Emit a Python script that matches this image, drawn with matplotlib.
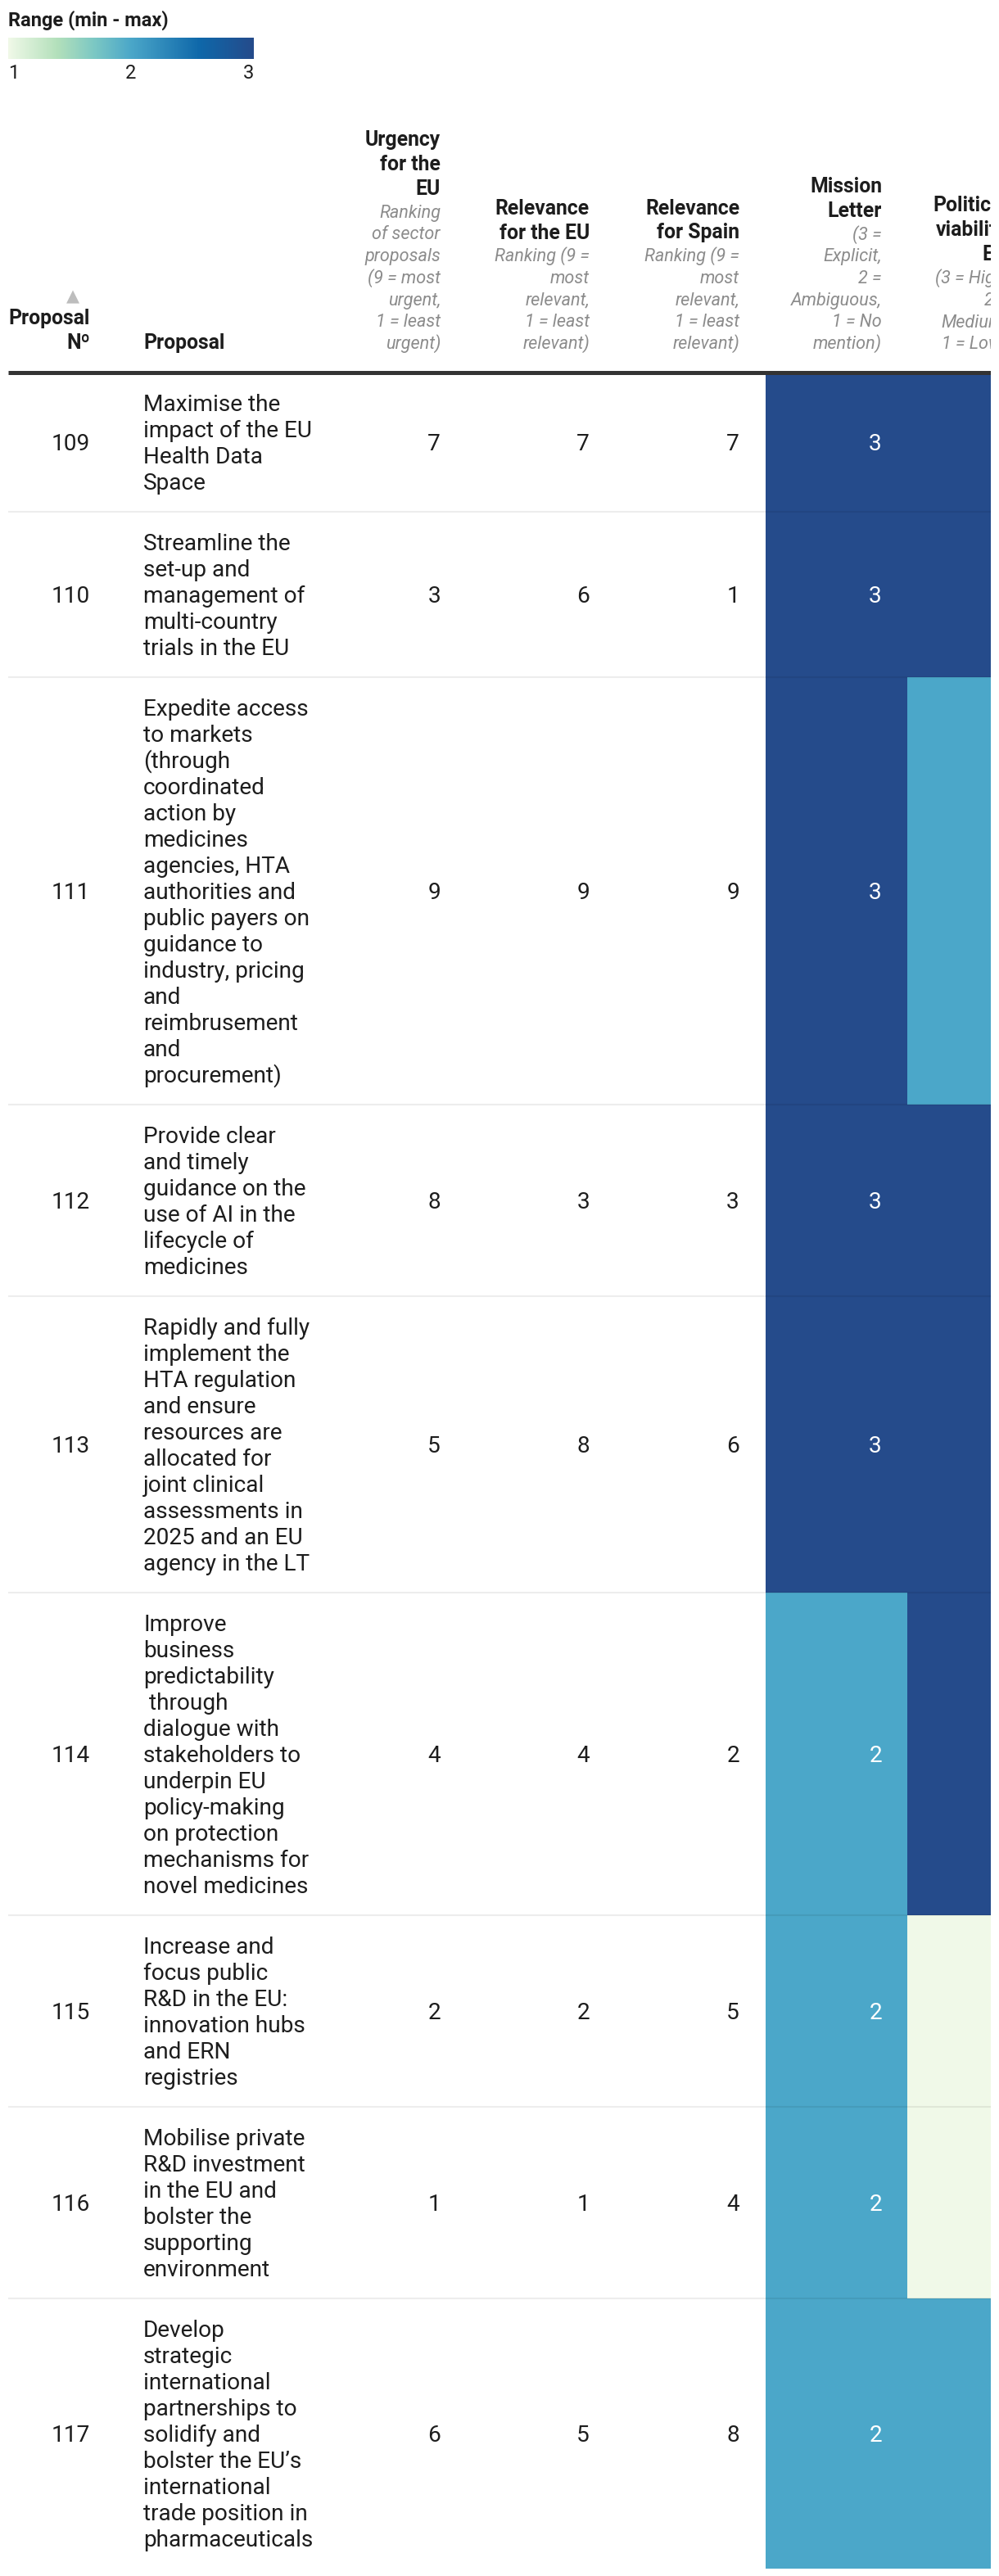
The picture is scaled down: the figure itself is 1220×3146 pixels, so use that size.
import matplotlib

matplotlib.use("Agg")
import matplotlib.pyplot as plt
import numpy as np
from matplotlib.colors import LinearSegmentedColormap, Normalize
from matplotlib.patches import Rectangle

plt.rcParams["font.family"] = ["Roboto", "DejaVu Sans"]

# --- data ---
proposal_ids = [109, 110, 111, 112, 113, 114, 115, 116, 117]
proposal_lines = [
    ["Maximise the", "impact of the EU", "Health Data", "Space"],
    ["Streamline the", "set-up and", "management of", "multi-country", "trials in the EU"],
    ["Expedite access", "to markets", "(through", "coordinated", "action by", "medicines",
     "agencies, HTA", "authorities and", "public payers on", "guidance to",
     "industry, pricing", "and", "reimbrusement", "and", "procurement)"],
    ["Provide clear", "and timely", "guidance on the", "use of AI in the", "lifecycle of",
     "medicines"],
    ["Rapidly and fully", "implement the", "HTA regulation", "and ensure", "resources are",
     "allocated for", "joint clinical", "assessments in", "2025 and an EU", "agency in the LT"],
    ["Improve", "business", "predictability", " through", "dialogue with", "stakeholders to",
     "underpin EU", "policy-making", "on protection", "mechanisms for", "novel medicines"],
    ["Increase and", "focus public", "R&D in the EU:", "innovation hubs", "and ERN",
     "registries"],
    ["Mobilise private", "R&D investment", "in the EU and", "bolster the", "supporting",
     "environment"],
    ["Develop", "strategic", "international", "partnerships to", "solidify and",
     "bolster the EU\u2019s", "international", "trade position in", "pharmaceuticals"],
]
urgency_eu = [7, 3, 9, 8, 5, 4, 2, 1, 6]
relevance_eu = [7, 6, 9, 3, 8, 4, 2, 1, 5]
relevance_es = [7, 1, 9, 3, 6, 2, 5, 4, 8]
mission_letter = [3, 3, 3, 3, 3, 2, 2, 2, 2]
political_eu = [3, 3, 2, 3, 3, 3, 1, 1, 2]

header_titles = [
    ["Urgency", "for the", "EU"],
    ["Relevance", "for the EU"],
    ["Relevance", "for Spain"],
    ["Mission", "Letter"],
    ["Political", "viability", "EU"],
]
header_notes = [
    ["Ranking", "of sector", "proposals", "(9 = most", "urgent,", "1 = least", "urgent)"],
    ["Ranking (9 =", "most", "relevant,", "1 = least", "relevant)"],
    ["Ranking (9 =", "most", "relevant,", "1 = least", "relevant)"],
    ["(3 =", "Explicit,", "2 =", "Ambiguous,", "1 = No", "mention)"],
    ["(3 = High,", "2 =", "Medium,", "1 = Low)"],
]
range_ticks = [1, 2, 3]

# --- layout (pixels) ---
W, H = 1220, 3146
VIS_W = 1210
col_right = [538, 720, 903, 1077, 1230]
heat_left = [935, 1108]
heat_right = [1108, 1262]
id_right, text_left = 110, 175
rule_y = 455
line_h = 32
row_pad = 42

TXT = "#1d1d1d"
NOTE = "#8c8c8c"
FS_BODY = 20.2
FS_HEAD = 17.8
FS_NOTE = 15.6

cmap = LinearSegmentedColormap.from_list(
    "rng", [(0.0, "#f0f9e8"), (0.2, "#b3e0bb"), (0.35, "#7cc8c4"), (0.5, "#4ba7c9"),
            (0.78, "#0f68aa"), (1.0, "#254b8b")])
norm = Normalize(1, 3)

fig = plt.figure(figsize=(W / 100, H / 100), dpi=100)
ax = fig.add_axes([0, 0, VIS_W / W, 1])
ax.set_xlim(0, VIS_W)
ax.set_ylim(H, 0)
ax.axis("off")

# legend
ax.text(10, 32, "Range (min - max)", fontsize=17, fontweight="bold", color=TXT,
        va="baseline", ha="left")
grad = np.linspace(1, 3, 512).reshape(1, -1)
ax.imshow(grad, cmap=cmap, norm=norm, extent=[10, 310, 72, 46], aspect="auto")
for t, ha in zip(range_ticks, ["left", "center", "right"]):
    x = 10 + (t - range_ticks[0]) / (range_ticks[-1] - range_ticks[0]) * 300
    ax.text(x, 96, str(t), fontsize=17, color=TXT, ha=ha, va="baseline")

# header
base = 426
ax.text(id_right, base, "N\u00ba", fontsize=FS_HEAD, fontweight="bold", color=TXT,
        ha="right", va="baseline")
ax.text(id_right, base - 30, "Proposal", fontsize=FS_HEAD, fontweight="bold", color=TXT,
        ha="right", va="baseline")
ax.text(89, 368, "\u25B2", fontsize=15, color="#bdbdbd", ha="center", va="baseline",
        family="DejaVu Sans")
ax.text(text_left, base, "Proposal", fontsize=FS_HEAD, fontweight="bold", color=TXT,
        ha="left", va="baseline")
for titles, notes, xr in zip(header_titles, header_notes, col_right):
    y = base
    for ln in reversed(notes):
        ax.text(xr, y, ln, fontsize=FS_NOTE, style="italic", color=NOTE, ha="right",
                va="baseline", clip_on=True)
        y -= 26.7
    y -= 1
    for ln in reversed(titles):
        ax.text(xr, y, ln, fontsize=FS_HEAD, fontweight="bold", color=TXT, ha="right",
                va="baseline", clip_on=True)
        y -= 30

# rows
tops = []
y = rule_y
for lines in proposal_lines:
    h = len(lines) * line_h + row_pad
    tops.append((y, h))
    y += h

for i, (top, h) in enumerate(tops):
    mid = top + h / 2
    for vals, x0, x1, xr in zip([mission_letter, political_eu], heat_left, heat_right,
                                col_right[3:]):
        v = vals[i]
        ax.add_patch(Rectangle((x0, top), x1 - x0, h, facecolor=cmap(norm(v)),
                               edgecolor="none", zorder=1))
        ax.text(xr, mid + 10, str(v), fontsize=FS_BODY, ha="right", va="baseline",
                color="white" if v >= 2 else TXT, zorder=3, clip_on=True)
    ax.text(id_right, mid + 10, str(proposal_ids[i]), fontsize=FS_BODY, color=TXT,
            ha="right", va="baseline")
    for vals, xr in zip([urgency_eu, relevance_eu, relevance_es], col_right[:3]):
        ax.text(xr, mid + 10, str(vals[i]), fontsize=FS_BODY, color=TXT, ha="right",
                va="baseline")
    lines = proposal_lines[i]
    y0 = mid - (len(lines) - 1) / 2 * line_h + 10
    for j, ln in enumerate(lines):
        ax.text(text_left, y0 + j * line_h, ln, fontsize=FS_BODY, color=TXT, ha="left",
                va="baseline")
    if i < len(tops) - 1:
        ax.plot([10, VIS_W], [top + h, top + h], color="black", alpha=0.07, lw=1.5,
                zorder=2, solid_capstyle="butt")

ax.plot([10, VIS_W], [rule_y, rule_y], color="#333333", lw=3.6, zorder=4,
        solid_capstyle="butt")

fig.savefig("out.png", dpi=100)
